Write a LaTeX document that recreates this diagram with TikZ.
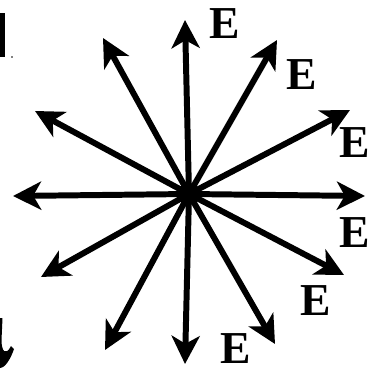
\documentclass[tikz,border=0pt]{standalone}
\usepackage{fontspec}
\setmainfont{Liberation Serif}
\usetikzlibrary{arrows.meta}
\begin{document}
\begin{tikzpicture}[x=0.02cm,y=-0.02cm,
  vec/.style={line width=3.4pt,-{Stealth[length=16pt,width=16pt,inset=4.5pt]}},
  lab/.style={font=\fontsize{26}{26}\selectfont\bfseries,inner sep=0pt}]
\useasboundingbox (0,0) rectangle (372,372);
\coordinate (c) at (189,194);
\foreach \n/\x/\y in {t1/185/20, t2/277/40, t3/350/110, t4/365/196, t5/344/275, t6/275/344,
  t7/185/364, t8/105/350, t9/41/277, t10/13/196, t11/35/111, t12/103/38}
  {\coordinate (\n) at (\x,\y);}
\foreach \n in {t1,t2,t3,t4,t5,t6,t7,t8,t9,t10,t11,t12}
  {\draw[vec] (c) -- (\n);}
\node[lab] (e1) at (225,24) {E};
\node[lab] (e2) at (302,75) {E};
\node[lab] (e3) at (355,143) {E};
\node[lab] (e4) at (355,233) {E};
\node[lab] (e5) at (316,301) {E};
\node[lab] (e6) at (236,349) {E};
\fill[black] (c) circle (11);
% edge fragments
\fill[black] (0,13) rectangle (4.5,57);
\fill[black] (12,57) circle (0.9);
\fill[black] (0,318) -- (2.5,318) -- (1.5,340) .. controls (1.5,352) and (6,356) .. (11,346)
  -- (14,349) .. controls (8,366) and (2,368) .. (0,368) -- cycle;
\end{tikzpicture}
\end{document}
